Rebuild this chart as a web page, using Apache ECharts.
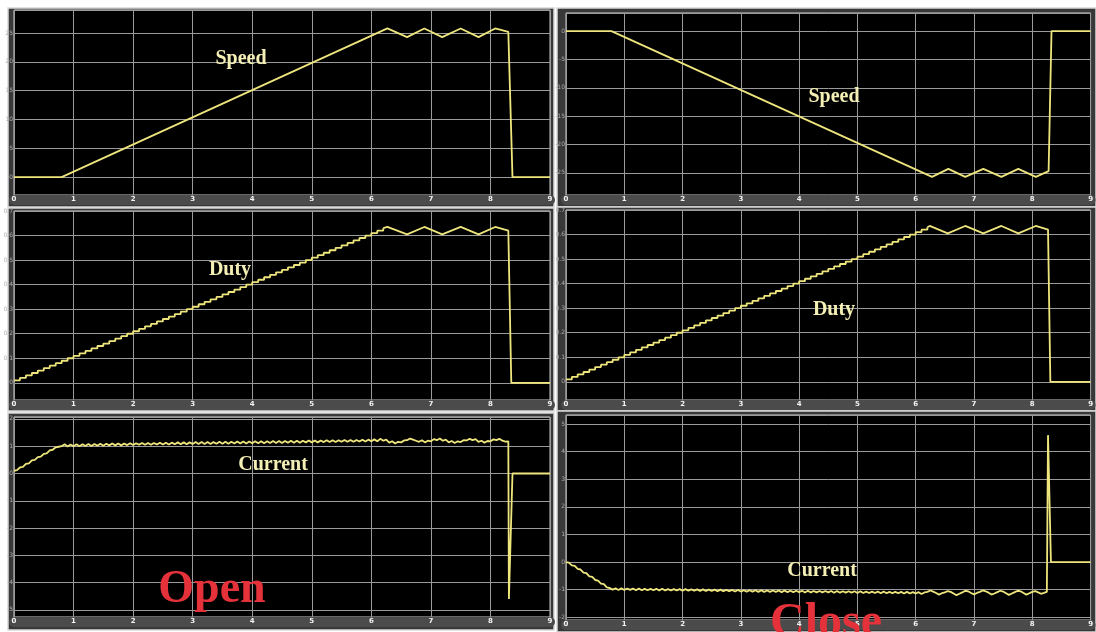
<!DOCTYPE html>
<html>
<head>
<meta charset="utf-8">
<script src="https://cdn.jsdelivr.net/npm/echarts@6/dist/echarts.min.js"></script>
<style>
  html, body { margin: 0; padding: 0; background: #fff; }
  #chart { width: 1096px; height: 632px; }
</style>
</head>
<body>
<div id="chart"></div>
<script>
// time axis ticks (seconds)
const X_TICKS = [0, 1, 2, 3, 4, 5, 6, 7, 8, 9];

// Speed, open / close (breakpoints)
const SPEED_OPEN_T = [0, 0.8, 6.27, 6.6, 6.89, 7.19, 7.5, 7.8, 8.08, 8.3, 8.37, 9];
const SPEED_OPEN_V = [0, 0, 25.8, 24.3, 25.8, 24.3, 25.8, 24.3, 25.8, 25.2, 0, 0];
const SPEED_CLOSE_T = [0, 0.78, 6.28, 6.56, 6.85, 7.16, 7.47, 7.76, 8.06, 8.28, 8.33, 9];
const SPEED_CLOSE_V = [0, 0, -25.7, -24.3, -25.7, -24.3, -25.7, -24.3, -25.7, -24.7, 0, 0];

// Duty staircase, one step every 0.1 s from t = 0
const DUTY_STEP_DT = 0.1;
const DUTY_OPEN_STEPS = [
  0.01, 0.02, 0.03, 0.04, 0.05, 0.06, 0.07, 0.08, 0.09, 0.10,
  0.11, 0.12, 0.13, 0.14, 0.15, 0.16, 0.17, 0.18, 0.19, 0.20,
  0.21, 0.22, 0.23, 0.24, 0.25, 0.26, 0.27, 0.28, 0.29, 0.30,
  0.31, 0.32, 0.33, 0.34, 0.35, 0.36, 0.37, 0.38, 0.39, 0.40,
  0.41, 0.42, 0.43, 0.44, 0.45, 0.46, 0.47, 0.48, 0.49, 0.50,
  0.51, 0.52, 0.53, 0.54, 0.55, 0.56, 0.57, 0.58, 0.59, 0.60,
  0.61, 0.62, 0.63
];
const DUTY_OPEN_TAIL_T = [6.2, 6.27, 6.6, 6.89, 7.19, 7.5, 7.8, 8.08, 8.3, 8.35, 9];
const DUTY_OPEN_TAIL_V = [0.63, 0.635, 0.605, 0.635, 0.605, 0.635, 0.605, 0.635, 0.62, 0, 0];
const DUTY_CLOSE_STEPS = [
  0.01, 0.02, 0.03, 0.04, 0.05, 0.06, 0.07, 0.08, 0.09, 0.10,
  0.11, 0.12, 0.13, 0.14, 0.15, 0.16, 0.17, 0.18, 0.19, 0.20,
  0.21, 0.22, 0.23, 0.24, 0.25, 0.26, 0.27, 0.28, 0.29, 0.30,
  0.31, 0.32, 0.33, 0.34, 0.35, 0.36, 0.37, 0.38, 0.39, 0.40,
  0.41, 0.42, 0.43, 0.44, 0.45, 0.46, 0.47, 0.48, 0.49, 0.50,
  0.51, 0.52, 0.53, 0.54, 0.55, 0.56, 0.57, 0.58, 0.59, 0.60,
  0.61, 0.62, 0.63
];
const DUTY_CLOSE_TAIL_T = [6.2, 6.24, 6.55, 6.85, 7.16, 7.47, 7.76, 8.06, 8.27, 8.31, 9];
const DUTY_CLOSE_TAIL_V = [0.63, 0.635, 0.605, 0.635, 0.605, 0.635, 0.605, 0.635, 0.62, 0, 0];

// Current, sampled every 0.05 s from t = 0 (ramp + ripple), then the switch-off tail
const CURRENT_DT = 0.05;
const CURRENT_OPEN = [
  0.10, 0.12, 0.22, 0.24, 0.35, 0.37, 0.48, 0.50, 0.60, 0.62, 0.72, 0.74, 0.85, 0.87, 0.96, 0.98,
  1.00, 1.07, 0.99, 1.06, 1.00, 1.07, 1.00, 1.07, 1.01, 1.08, 1.01, 1.08, 1.02, 1.09, 1.02, 1.09, 1.03, 1.10, 1.03, 1.10, 1.03, 1.10, 1.04, 1.11,
  1.04, 1.11, 1.05, 1.12, 1.05, 1.12, 1.05, 1.12, 1.06, 1.13, 1.06, 1.13, 1.06, 1.13, 1.07, 1.14, 1.07, 1.14, 1.07, 1.14, 1.08, 1.15, 1.08, 1.15,
  1.08, 1.15, 1.08, 1.15, 1.09, 1.16, 1.09, 1.16, 1.09, 1.16, 1.10, 1.17, 1.10, 1.17, 1.10, 1.17, 1.11, 1.18, 1.11, 1.18, 1.11, 1.18, 1.12, 1.19,
  1.12, 1.19, 1.12, 1.19, 1.13, 1.20, 1.13, 1.20, 1.13, 1.20, 1.14, 1.21, 1.14, 1.21, 1.14, 1.21, 1.15, 1.22, 1.15, 1.22, 1.15, 1.22, 1.16, 1.23,
  1.16, 1.23, 1.16, 1.23, 1.17, 1.24, 1.17, 1.24, 1.18, 1.25, 1.18, 1.27, 1.20, 1.24, 1.13, 1.18, 1.10, 1.16, 1.14, 1.21, 1.22, 1.28, 1.24, 1.20,
  1.16, 1.22, 1.14, 1.20, 1.18, 1.26, 1.22, 1.28, 1.20, 1.24, 1.14, 1.19, 1.12, 1.18, 1.15, 1.22, 1.21, 1.27, 1.22, 1.26, 1.16, 1.20, 1.13, 1.19,
  1.18, 1.25, 1.22, 1.27, 1.20, 1.17, 1.18
];
const CURRENT_OPEN_TAIL_T = [8.31, 8.37, 9];
const CURRENT_OPEN_TAIL_V = [-4.6, 0, 0];
const CURRENT_CLOSE = [
  0.00, -0.02, -0.12, -0.14, -0.25, -0.27, -0.38, -0.40, -0.52, -0.54, -0.65, -0.67, -0.78, -0.80, -0.92, -0.94,
  -1.00, -0.95, -1.01, -0.95, -1.01, -0.96, -1.01, -0.96, -1.02, -0.96, -1.02, -0.97, -1.02, -0.97, -1.02, -0.97, -1.03, -0.97, -1.03, -0.98, -1.03, -0.98, -1.03, -0.98,
  -1.04, -0.98, -1.04, -0.99, -1.04, -0.99, -1.05, -0.99, -1.05, -1.00, -1.05, -1.00, -1.06, -1.00, -1.06, -1.01, -1.06, -1.01, -1.07, -1.01, -1.07, -1.02, -1.07, -1.02,
  -1.07, -1.02, -1.08, -1.02, -1.08, -1.03, -1.08, -1.03, -1.08, -1.03, -1.09, -1.03, -1.09, -1.04, -1.09, -1.04, -1.09, -1.04, -1.10, -1.04, -1.10, -1.05, -1.10, -1.05,
  -1.10, -1.05, -1.10, -1.05, -1.11, -1.05, -1.11, -1.06, -1.11, -1.06, -1.11, -1.06, -1.12, -1.06, -1.12, -1.07, -1.12, -1.07, -1.12, -1.07, -1.13, -1.07, -1.13, -1.08,
  -1.13, -1.08, -1.13, -1.08, -1.14, -1.08, -1.14, -1.09, -1.14, -1.09, -1.16, -1.10, -1.08, -1.03, -1.07, -1.12, -1.18, -1.13, -1.10, -1.05, -1.08, -1.14, -1.20, -1.15,
  -1.10, -1.04, -1.06, -1.12, -1.17, -1.12, -1.08, -1.03, -1.06, -1.11, -1.18, -1.14, -1.09, -1.04, -1.07, -1.13, -1.19, -1.14, -1.09, -1.04, -1.06, -1.12, -1.18, -1.13,
  -1.08, -1.05, -1.10, -1.15, -1.12, -1.08
];
const CURRENT_CLOSE_TAIL_T = [8.27, 8.32, 9];
const CURRENT_CLOSE_TAIL_V = [4.6, 0, 0];

// y ranges per panel: [min, max, step]
const Y_SPEED_OPEN = [-3.1, 29, 5];
const Y_SPEED_CLOSE = [-28.9, 3.2, 5];
const Y_DUTY_OPEN = [-0.07, 0.7, 0.1];
const Y_DUTY_CLOSE = [-0.074, 0.7, 0.1];
const Y_CURRENT_OPEN = [-5.26, 2.07, 1];
const Y_CURRENT_CLOSE = [-2.1, 5.33, 1];

const TRACE = '#eee67c';
const LABEL = '#f4efb4';
const RED = '#e5323a';
const GRID_LINE = '#9a9a9a';

// plot areas: left column / right column, three rows
const PANELS = [
  { left: 14,  top: 10,  width: 536, height: 185, y: Y_SPEED_OPEN },
  { left: 566, top: 13,  width: 529, height: 182, y: Y_SPEED_CLOSE },
  { left: 14,  top: 211, width: 536, height: 189, y: Y_DUTY_OPEN },
  { left: 566, top: 210, width: 529, height: 190, y: Y_DUTY_CLOSE },
  { left: 14,  top: 417, width: 536, height: 200, y: Y_CURRENT_OPEN },
  { left: 566, top: 415, width: 529, height: 205, y: Y_CURRENT_CLOSE }
];

const zip = (ts, vs) => ts.map((t, i) => [t, vs[i]]);
const sampled = (dt, vs) => vs.map((v, i) => [+(i * dt).toFixed(3), v]);

const chart = echarts.init(document.getElementById('chart'), null, { renderer: 'canvas' });

const line = (idx, data, extra) => Object.assign({
  type: 'line',
  xAxisIndex: idx,
  yAxisIndex: idx,
  data,
  showSymbol: false,
  symbol: 'none',
  lineStyle: { color: TRACE, width: 1.8 },
  silent: true
}, extra || {});

const panelRect = (x, y, w, h) => ({
  type: 'rect',
  z: -5,
  shape: { x, y, width: w, height: h },
  style: { fill: '#383838', stroke: '#d8d8d8', lineWidth: 1.5 }
});

const label = (text, x, y, size, color) => ({
  type: 'text',
  z: 100,
  style: {
    text, x, y,
    font: `bold ${size}px "Liberation Serif", "DejaVu Serif", serif`,
    fill: color,
    textAlign: 'center',
    textVerticalAlign: 'middle'
  }
});

chart.setOption({
  backgroundColor: '#fff',
  animation: false,
  grid: PANELS.map(p => ({
    left: p.left, top: p.top, width: p.width, height: p.height,
    show: true, backgroundColor: '#000', borderColor: '#d0d0d0', borderWidth: 1
  })),
  xAxis: PANELS.map((p, i) => ({
    type: 'value',
    gridIndex: i,
    min: X_TICKS[0],
    max: X_TICKS[X_TICKS.length - 1],
    interval: 1,
    offset: 5,
    axisLine: { show: true, onZero: false, lineStyle: { color: '#4b4b4b', width: 10 } },
    axisTick: { show: false },
    axisLabel: { color: '#f2f2f2', fontSize: 7, fontWeight: 'bold', margin: -4, fontFamily: 'DejaVu Sans' },
    splitLine: { show: true, lineStyle: { color: GRID_LINE, width: 1 } }
  })),
  yAxis: PANELS.map((p, i) => ({
    type: 'value',
    gridIndex: i,
    min: p.y[0],
    max: p.y[1],
    minInterval: p.y[2],
    maxInterval: p.y[2],
    splitNumber: 7,
    axisLine: { show: false },
    axisTick: { show: false },
    axisLabel: {
      color: '#b0b0b0', fontSize: 6, margin: 1, fontFamily: 'DejaVu Sans',
      formatter: v => {
        const k = v / p.y[2];
        return Math.abs(k - Math.round(k)) < 1e-6 ? String(+v.toFixed(2)) : '';
      }
    },
    splitLine: { show: true, lineStyle: { color: GRID_LINE, width: 1 } }
  })),
  series: [
    line(0, zip(SPEED_OPEN_T, SPEED_OPEN_V)),
    line(1, zip(SPEED_CLOSE_T, SPEED_CLOSE_V)),
    line(2, sampled(DUTY_STEP_DT, DUTY_OPEN_STEPS), { step: 'end' }),
    line(2, zip(DUTY_OPEN_TAIL_T, DUTY_OPEN_TAIL_V)),
    line(3, sampled(DUTY_STEP_DT, DUTY_CLOSE_STEPS), { step: 'end' }),
    line(3, zip(DUTY_CLOSE_TAIL_T, DUTY_CLOSE_TAIL_V)),
    line(4, sampled(CURRENT_DT, CURRENT_OPEN).concat(zip(CURRENT_OPEN_TAIL_T, CURRENT_OPEN_TAIL_V))),
    line(5, sampled(CURRENT_DT, CURRENT_CLOSE).concat(zip(CURRENT_CLOSE_TAIL_T, CURRENT_CLOSE_TAIL_V)))
  ],
  graphic: [
    panelRect(8, 8, 546, 199),
    panelRect(557, 8, 539, 199),
    panelRect(8, 208, 546, 203),
    panelRect(557, 207, 539, 204),
    panelRect(8, 413, 546, 217),
    panelRect(557, 411, 539, 221),
    label('Speed', 241, 59, 20, LABEL),
    label('Duty', 230, 270, 20, LABEL),
    label('Current', 273, 465, 20, LABEL),
    label('Open', 212, 590, 46, RED),
    label('Speed', 834, 97, 20, LABEL),
    label('Duty', 834, 310, 20, LABEL),
    label('Current', 822, 571, 20, LABEL),
    label('Close', 826, 624, 48, RED)
  ]
});

window.addEventListener('resize', () => chart.resize());
</script>
</body>
</html>
